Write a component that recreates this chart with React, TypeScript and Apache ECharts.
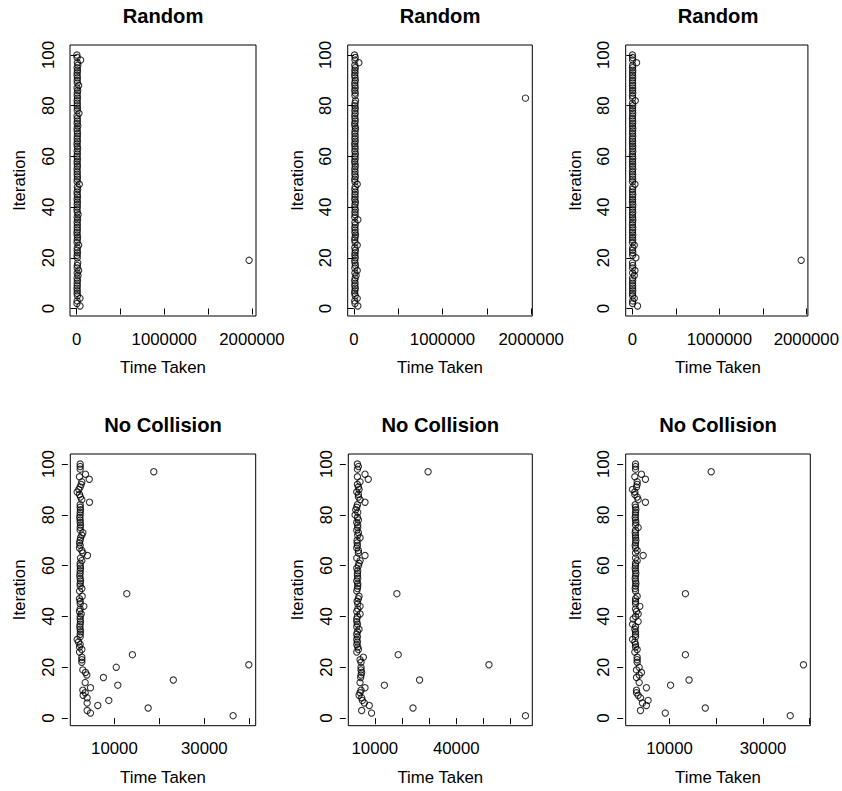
import React, { useEffect, useRef } from "react";
import * as echarts from "echarts";

// ---------- data ----------
const iterations = [
  1, 2, 3, 4, 5, 6, 7, 8, 9, 10, 11, 12, 13, 14, 15, 16, 17, 18, 19, 20,
  21, 22, 23, 24, 25, 26, 27, 28, 29, 30, 31, 32, 33, 34, 35, 36, 37, 38, 39, 40,
  41, 42, 43, 44, 45, 46, 47, 48, 49, 50, 51, 52, 53, 54, 55, 56, 57, 58, 59, 60,
  61, 62, 63, 64, 65, 66, 67, 68, 69, 70, 71, 72, 73, 74, 75, 76, 77, 78, 79, 80,
  81, 82, 83, 84, 85, 86, 87, 88, 89, 90, 91, 92, 93, 94, 95, 96, 97, 98, 99, 100,
];

const randomA = [
  37800, 3100, 5200, 37800, 8400, 4600, 6900, 3800, 7200, 5100,
  9300, 4400, 14800, 6100, 22500, 5600, 7800, 12100, 1968000, 6400,
  4900, 8800, 5300, 7100, 22500, 4200, 6600, 9900, 5800, 3600,
  7400, 6200, 8100, 4700, 10400, 5500, 15900, 6800, 4100, 7600,
  5900, 8300, 4500, 9600, 6300, 5000, 11200, 7300, 30100, 4800,
  6700, 8900, 5400, 7000, 3900, 9100, 6000, 5200, 8600, 4300,
  7700, 5700, 10800, 6500, 4000, 8200, 5800, 7500, 9400, 6200,
  4600, 12600, 5300, 7900, 6900, 4400, 26300, 5600, 8700, 6100,
  7200, 4900, 9800, 5400, 6800, 11600, 4200, 22500, 7100, 5900,
  8500, 4700, 6400, 9000, 5100, 13400, 7600, 45500, 4800, 2400,
];

const randomB = [
  45000, 12800, 9600, 37600, 15200, 8900, 11400, 16300, 10100, 13700,
  9200, 14600, 24800, 11900, 37600, 10700, 17200, 12300, 9800, 15500,
  11100, 13300, 16800, 10400, 37600, 14100, 9500, 12700, 18400, 11600,
  13900, 10200, 15800, 12000, 45000, 9900, 14400, 11300, 16100, 10800,
  12500, 17600, 9700, 13500, 11800, 15100, 10500, 14700, 37600, 12200,
  9400, 16500, 11000, 13100, 10300, 15400, 12900, 9100, 14200, 11500,
  16900, 10600, 13800, 12400, 9300, 15700, 11200, 14000, 10900, 13000,
  17900, 11700, 9600, 15000, 12600, 10000, 14500, 11400, 16200, 10700,
  13200, 18800, 1935700, 12100, 15300, 9800, 14300, 11900, 10200, 16600,
  12800, 9500, 13600, 11000, 15900, 10400, 56400, 12300, 14900, 7500,
];

const randomC = [
  60000, 2900, 4100, 22600, 3500, 1800, 5200, 2600, 3900, 1500,
  4600, 2200, 22600, 3300, 30000, 2700, 4800, 1900, 1940600, 41500,
  3100, 5600, 2400, 4300, 22600, 1700, 3800, 2500, 5000, 2100,
  3600, 4400, 1600, 2800, 5300, 3200, 2000, 4700, 2300, 3700,
  5100, 1900, 3400, 2600, 4900, 2200, 3000, 5500, 30000, 1800,
  4200, 2700, 3600, 1600, 5000, 2400, 3900, 2100, 4500, 3300,
  1700, 5200, 2900, 4000, 2300, 3500, 1900, 4800, 2600, 3100,
  5400, 2000, 3700, 4300, 1800, 2800, 5100, 3200, 2400, 4600,
  2100, 34000, 3800, 1600, 5300, 2900, 4100, 2200, 3400, 1900,
  4700, 2500, 3600, 5000, 2000, 4400, 49000, 2700, 3300, 1500,
];

const noCollisionA = [
  36400, 4670, 3930, 17500, 6300, 3930, 8750, 3930, 3040, 3490,
  2970, 4670, 10750, 3490, 23100, 7550, 3860, 3560, 2970, 10400,
  39900, 2750, 2750, 2750, 14000, 2230, 2750, 2230, 2380, 2000,
  1710, 2380, 2380, 2450, 2380, 2300, 2380, 2450, 2380, 2380,
  2600, 2230, 2380, 3190, 2380, 2380, 2230, 2820, 12750, 2230,
  2750, 2380, 2380, 2450, 2380, 2300, 2380, 2380, 2450, 2380,
  2380, 2750, 2450, 4000, 2970, 2750, 2230, 2380, 2230, 2380,
  2450, 2750, 2970, 2380, 2380, 2450, 2380, 2380, 2300, 2380,
  2380, 2450, 2380, 2380, 4450, 2750, 2450, 2230, 1710, 2080,
  2380, 2600, 2750, 4400, 2230, 3560, 18750, 2380, 2380, 2380,
];

const noCollisionB = [
  65530, 8800, 5160, 24070, 7950, 6130, 5400, 5160, 4190, 4560,
  4920, 6380, 13530, 4560, 26500, 4800, 4920, 5160, 4920, 4920,
  52070, 4920, 4560, 5770, 18620, 3345, 3950, 3710, 3345, 3590,
  3345, 3590, 3345, 3590, 4190, 3345, 3590, 3345, 3345, 3590,
  4560, 3345, 3710, 4560, 3710, 3470, 3950, 4190, 18140, 3345,
  3590, 3710, 3710, 3345, 3710, 3590, 3590, 3710, 3345, 3950,
  4190, 4560, 3345, 6380, 3950, 3950, 3345, 3590, 3470, 3470,
  4560, 3710, 3950, 3345, 3710, 3710, 3345, 3950, 3590, 2740,
  3710, 2980, 3345, 3590, 6380, 4560, 3950, 3950, 3345, 4190,
  3950, 3590, 4560, 7590, 3590, 6380, 29640, 3590, 3950, 3590,
];

const noCollisionC = [
  35840, 9090, 3780, 17650, 5050, 4200, 5410, 3780, 3280, 2930,
  2930, 5050, 10220, 3500, 14180, 2930, 3500, 3990, 2930, 3500,
  38670, 3070, 3070, 3070, 13400, 2570, 3070, 2720, 2720, 2570,
  2080, 2720, 2720, 2720, 2570, 2720, 2080, 3280, 2220, 2720,
  3280, 2930, 2720, 3640, 2720, 2720, 2720, 3070, 13400, 2720,
  2650, 2720, 2800, 2720, 2650, 2720, 2790, 2720, 2650, 2720,
  2720, 3070, 2720, 4350, 2720, 3070, 2720, 2650, 2720, 2790,
  2720, 2720, 2650, 2720, 3280, 2720, 2790, 2720, 2650, 2720,
  2720, 2790, 2720, 2650, 4840, 3280, 3070, 2570, 2570, 2080,
  2930, 3070, 3070, 4840, 2570, 3990, 18920, 2720, 2720, 2720,
];

const titles = ["Random", "Random", "Random", "No Collision", "No Collision", "No Collision"];
const seriesX = [randomA, randomB, randomC, noCollisionA, noCollisionB, noCollisionC];

const xTicksRandom = [0, 500000, 1000000, 1500000, 2000000];
const xLabelsRandom = [0, 1000000, 2000000];
const xTicksNcA = [10000, 20000, 30000, 40000];
const xLabelsNcA = [10000, 30000];
const xTicksNcB = [10000, 20000, 30000, 40000, 50000, 60000];
const xLabelsNcB = [10000, 40000];
const xTicksNcC = [10000, 20000, 30000, 40000];
const xLabelsNcC = [10000, 30000];
const xTickSets = [xTicksRandom, xTicksRandom, xTicksRandom, xTicksNcA, xTicksNcB, xTicksNcC];
const xLabelSets = [xLabelsRandom, xLabelsRandom, xLabelsRandom, xLabelsNcA, xLabelsNcB, xLabelsNcC];
const yTicks = [0, 20, 40, 60, 80, 100];

const xAxisTitle = "Time Taken";
const yAxisTitle = "Iteration";

// ---------- layout ----------
const grids = [
  { left: 70, top: 45, width: 186, height: 271 },
  { left: 347.7, top: 45, width: 184.6, height: 271 },
  { left: 625.7, top: 45, width: 184.6, height: 271 },
  { left: 70.3, top: 454, width: 185.4, height: 271.7 },
  { left: 348.3, top: 454, width: 184, height: 271.7 },
  { left: 625.7, top: 454, width: 184.6, height: 271.7 },
];

const FONT = "'Liberation Sans', Arial, Helvetica, sans-serif";
const FS = 16.8;

function rExtent(arr: number[]) {
  let mn = Infinity;
  let mx = -Infinity;
  for (const v of arr) {
    if (v < mn) mn = v;
    if (v > mx) mx = v;
  }
  const d = (mx - mn) * 0.04;
  return [mn - d, mx + d];
}

export default function App() {
  const ref = useRef<HTMLDivElement>(null);

  useEffect(() => {
    document.body.style.margin = "0";
    if (!ref.current) return;
    const chart = echarts.init(ref.current, undefined, { renderer: "svg" });

    const yExt = rExtent(iterations);

    const gridOpts = grids.map((g) => ({
      left: g.left,
      top: g.top,
      width: g.width,
      height: g.height,
      show: true,
      borderColor: "#000",
      borderWidth: 1,
      backgroundColor: "transparent",
      containLabel: false,
    }));

    const xAxes = seriesX.map((arr, k) => {
      const ext = rExtent(arr);
      return {
        type: "value",
        gridIndex: k,
        min: ext[0],
        max: ext[1],
        offset: 3,
        axisLine: { show: false },
        splitLine: { show: false },
        axisTick: {
          show: true,
          length: 6,
          lineStyle: { color: "#000", width: 1 },
          customValues: xTickSets[k],
        },
        axisLabel: {
          show: true,
          customValues: xLabelSets[k],
          formatter: (v: number) => String(Math.round(v)),
          color: "#000",
          fontFamily: FONT,
          fontSize: FS,
          margin: 11.5,
        },
      };
    });

    const yAxes = seriesX.map((_, k) => ({
      type: "value",
      gridIndex: k,
      min: yExt[0],
      max: yExt[1],
      offset: 2.5,
      axisLine: { show: false },
      splitLine: { show: false },
      axisTick: {
        show: true,
        length: 6,
        lineStyle: { color: "#000", width: 1 },
        customValues: yTicks,
      },
      axisLabel: {
        show: true,
        customValues: yTicks,
        rotate: 90,
        formatter: (v: number) => String(Math.round(v)),
        color: "#000",
        fontFamily: FONT,
        fontSize: FS,
        margin: 11,
      },
    }));

    const series = seriesX.map((arr, k) => ({
      type: "scatter",
      xAxisIndex: k,
      yAxisIndex: k,
      symbol: "circle",
      symbolSize: 6.3,
      silent: true,
      itemStyle: {
        color: "rgba(0,0,0,0)",
        borderColor: "#000",
        borderWidth: 1.1,
      },
      data: arr.map((v, i) => [v, iterations[i]]),
    }));

    const graphics: any[] = [];
    grids.forEach((g, k) => {
      const cx = g.left + g.width / 2;
      const cy = g.top + g.height / 2;
      graphics.push({
        type: "text",
        x: cx,
        y: g.top - 29.5,
        style: {
          text: titles[k],
          fill: "#000",
          fontFamily: FONT,
          fontSize: 20.2,
          fontWeight: "bold",
          align: "center",
          verticalAlign: "middle",
          textAlign: "center",
          textVerticalAlign: "middle",
        },
      });
      graphics.push({
        type: "text",
        x: cx,
        y: g.top + g.height + 51.8,
        style: {
          text: xAxisTitle,
          fill: "#000",
          fontFamily: FONT,
          fontSize: FS,
          align: "center",
          verticalAlign: "middle",
          textAlign: "center",
          textVerticalAlign: "middle",
        },
      });
      graphics.push({
        type: "text",
        x: g.left - 50.5,
        y: cy,
        rotation: Math.PI / 2,
        style: {
          text: yAxisTitle,
          fill: "#000",
          fontFamily: FONT,
          fontSize: FS,
          align: "center",
          verticalAlign: "middle",
          textAlign: "center",
          textVerticalAlign: "middle",
        },
      });
    });

    chart.setOption({
      animation: false,
      backgroundColor: "#fff",
      textStyle: { fontFamily: FONT },
      grid: gridOpts,
      xAxis: xAxes,
      yAxis: yAxes,
      series,
      graphic: graphics,
    });

    return () => {
      chart.dispose();
    };
  }, []);

  return <div ref={ref} style={{ width: 842, height: 791 }} />;
}
